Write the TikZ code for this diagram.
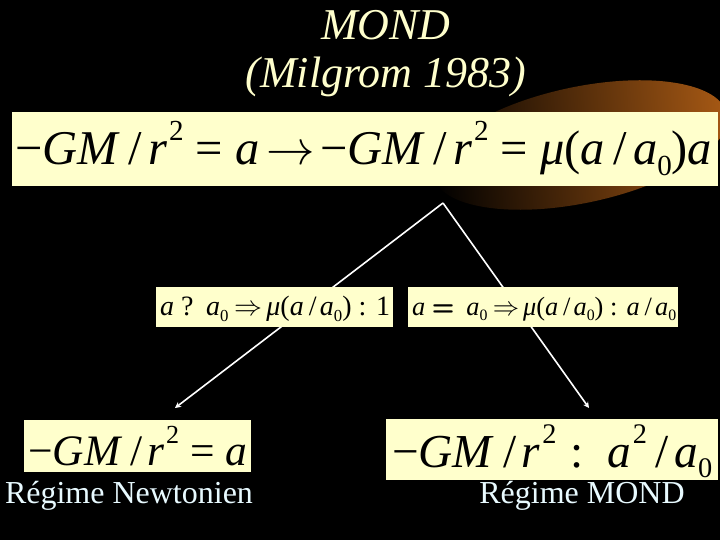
\RequirePackage{fix-cm}
\documentclass[tikz,border=0pt]{standalone}
\usepackage{fontspec}
\setmainfont{Liberation Serif}
\usetikzlibrary{arrows.meta}
\definecolor{cream}{RGB}{255,255,204}
\definecolor{labelc}{RGB}{232,250,255}
\definecolor{glow}{RGB}{165,88,20}
\newcommand\mv[1]{\textit{#1}}
\newcommand\msub[1]{\raisebox{-0.22em}{\scalebox{0.6}{#1}}}
\newcommand\msup[1]{\kern0.04em\raisebox{0.5em}{\scalebox{0.6}{#1}}}
\newcommand\sla{\kern0.18em/\kern0.12em}
\newcommand\meq[1]{\kern0.25em#1\kern0.25em}
\begin{document}
\begin{tikzpicture}[x=1pt,y=-1pt,
  eqbox/.style={fill=cream,draw=none,inner sep=0pt,text=black},
  eqtext/.style={anchor=base west,inner sep=0pt,text=black},
  title/.style={text=cream,font=\fontsize{44}{44}\selectfont\itshape,inner sep=0pt},
  regime/.style={text=labelc,font=\fontsize{32}{32}\selectfont,inner sep=0pt},
  branch/.style={white,line width=1.6pt,-{Stealth[length=6pt,width=6pt]}}]
\fill[black] (0,0) rectangle (720,540);
\useasboundingbox (0,0) rectangle (720,540);
% glow
\shade[rotate around={12:(580,145)},left color=black,right color=glow,shading angle=95] (580,145) ellipse [x radius=150,y radius=58];
% title
\node[title] (t1) at (386,25) {MOND};
\node[title] (t2) at (386,77) {(Milgrom 1983)};
% connectors
\coordinate (apex) at (443,203);
\coordinate (endL) at (175,408);
\coordinate (endR) at (589,408);
\draw[branch] (apex) -- (endL);
\draw[branch] (apex) -- (endR);
% boxes
\node[eqbox,minimum width=706pt,minimum height=74pt] (top) at (365,149) {};
\node[eqtext] (topeq) at (15,165) {\resizebox{697pt}{!}{\fontsize{48}{48}\selectfont −\mv{GM}\sla\mv{r}\msup{2}\meq{=}\mv{a}\kern0.15em$\rightarrow$\kern0.1em−\mv{GM}\sla\mv{r}\msup{2}\meq{=}\mv{μ}(\mv{a}\sla\mv{a}\msub{0})\mv{a}}};
\node[eqbox,minimum width=237pt,minimum height=40pt] (midL) at (274.5,307) {};
\node[eqtext] (midLeq) at (160,315) {\resizebox{230pt}{!}{\fontsize{28}{28}\selectfont\mv{a} ?\kern0.45em\mv{a}\msub{0}\kern0.2em$\Rightarrow$\kern0.15em\mv{μ}(\mv{a}\sla\mv{a}\msub{0})\kern0.25em:\kern0.35em1}};
\node[eqbox,minimum width=270pt,minimum height=40pt] (midR) at (543,307) {};
\node[eqtext] (midReq) at (412,315) {\resizebox{264pt}{!}{\fontsize{28}{28}\selectfont\mv{a} \textsf{\bfseries =}\kern0.45em\mv{a}\msub{0}\kern0.2em$\Rightarrow$\kern0.15em\mv{μ}(\mv{a}\sla\mv{a}\msub{0})\kern0.25em:\kern0.35em\mv{a}\sla\mv{a}\msub{0}}};
\node[eqbox,minimum width=227pt,minimum height=52pt] (botL) at (137.5,446) {};
\node[eqtext] (botLeq) at (28,465) {\resizebox{219pt}{!}{\fontsize{44}{44}\selectfont −\mv{GM}\sla\mv{r}\msup{2}\meq{=}\mv{a}}};
\node[eqbox,minimum width=332pt,minimum height=61pt] (botR) at (552,449.5) {};
\node[eqtext] (botReq) at (392,467) {\resizebox{320pt}{!}{\fontsize{44}{44}\selectfont −\mv{GM}\sla\mv{r}\msup{2}\kern0.3em:\kern0.5em\mv{a}\msup{2}\sla\mv{a}\msub{0}}};
% labels
\node[regime] (lN) at (129,496) {Régime Newtonien};
\node[regime] (lM) at (582,496) {Régime MOND};
\end{tikzpicture}
\end{document}
